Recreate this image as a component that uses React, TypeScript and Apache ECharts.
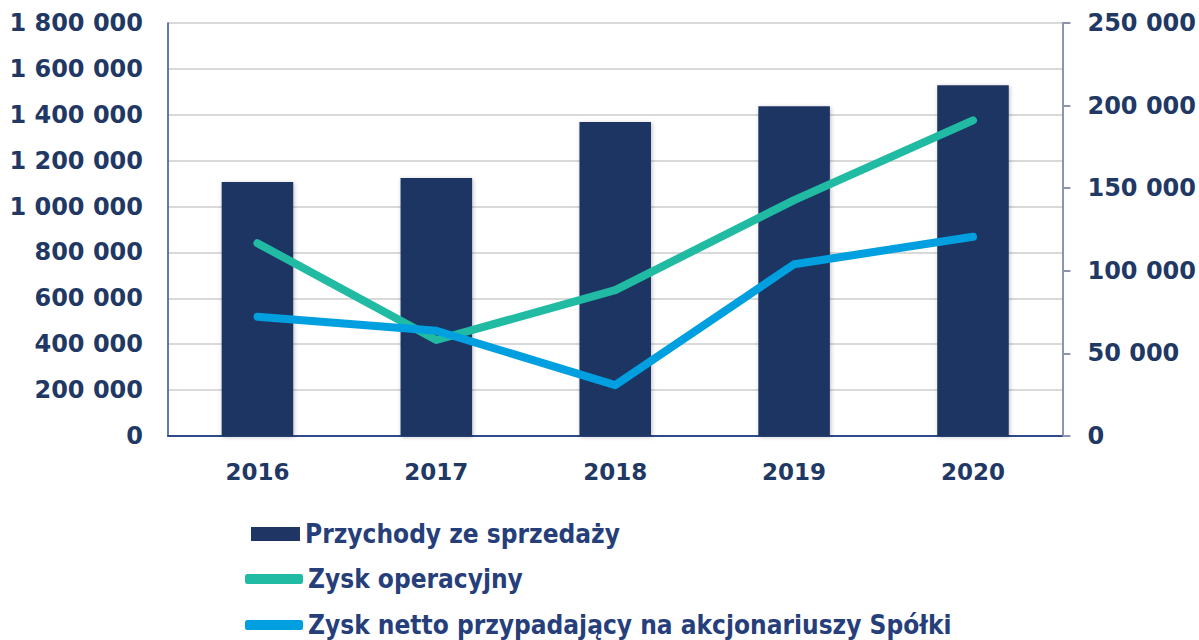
import React, { useEffect, useRef } from "react";
import * as echarts from "echarts";

const years = ["2016", "2017", "2018", "2019", "2020"];
const przychody = [1107000, 1125000, 1369000, 1437000, 1529000];
const zyskOperacyjny = [116700, 58100, 88300, 142800, 191100];
const zyskNetto = [72200, 63700, 30800, 104000, 120600];
const leftTicks = { min: 0, max: 1800000, interval: 200000 };
const rightTicks = { min: 0, max: 250000, interval: 50000 };

const NAVY = "#1f3564";
const GREEN = "#20bba2";
const BLUE = "#009fe0";
const LABEL = "#1f3864";
const LEGEND_TEXT = "#263f7a";
const AXIS_FONT = "'DejaVu Sans', Verdana, sans-serif";
const LEGEND_FONT = "'DejaVu Sans Condensed', 'Liberation Sans Narrow', 'DejaVu Sans', sans-serif";

const fmt = (v: number) => String(v).replace(/\B(?=(\d{3})+(?!\d))/g, " ");

export default function App() {
  const ref = useRef<HTMLDivElement>(null);
  useEffect(() => {
    if (!ref.current) return;
    const chart = echarts.init(ref.current, undefined, { renderer: "svg" });
    const legendText = {
      color: LEGEND_TEXT,
      fontFamily: LEGEND_FONT,
      fontWeight: "bold" as const,
      fontSize: 26,
      lineHeight: 26,
    };
    chart.setOption({
      animation: false,
      backgroundColor: "#ffffff",
      grid: { left: 168, right: 135, top: 23, bottom: 204, containLabel: false },
      legend: [
        {
          data: [{ name: "Przychody ze sprzedaży", icon: "rect" }],
          left: 251,
          top: 521,
          padding: 0,
          itemWidth: 49,
          itemHeight: 14,
          textStyle: { ...legendText },
        },
        {
          data: [{ name: "Zysk operacyjny", icon: "roundRect" }],
          left: 245,
          top: 566,
          padding: 0,
          itemWidth: 58,
          itemHeight: 10,
          textStyle: { ...legendText },
        },
        {
          data: [{ name: "Zysk netto przypadający na akcjonariuszy Spółki", icon: "roundRect" }],
          left: 245,
          top: 612,
          padding: 0,
          itemWidth: 58,
          itemHeight: 10,
          textStyle: { ...legendText },
        },
      ],
      xAxis: {
        type: "category",
        data: years,
        axisLine: { show: true, lineStyle: { color: "#2f4a8a", width: 2 } },
        axisTick: { show: false },
        axisLabel: {
          color: LABEL,
          fontFamily: AXIS_FONT,
          fontWeight: "bold",
          fontSize: 23,
          margin: 24,
        },
      },
      yAxis: [
        {
          type: "value",
          position: "left",
          ...leftTicks,
          axisLine: { show: true, lineStyle: { color: "#2f4f8f", width: 1.5 } },
          axisTick: { show: false },
          splitLine: { show: true, lineStyle: { color: "#d9d9d9", width: 2 } },
          axisLabel: {
            color: LABEL,
            fontFamily: AXIS_FONT,
            fontWeight: "bold",
            fontSize: 24,
            margin: 25,
            formatter: (v: number) => fmt(v),
          },
        },
        {
          type: "value",
          position: "right",
          ...rightTicks,
          axisLine: { show: true, lineStyle: { color: "#8c94b0", width: 2 } },
          axisTick: { show: true, length: 8, lineStyle: { color: "#8c94b0", width: 2 } },
          splitLine: { show: false },
          axisLabel: {
            color: LABEL,
            fontFamily: AXIS_FONT,
            fontWeight: "bold",
            fontSize: 24,
            margin: 25,
            formatter: (v: number) => fmt(v),
          },
        },
      ],
      series: [
        {
          name: "Przychody ze sprzedaży",
          type: "bar",
          yAxisIndex: 0,
          data: przychody,
          barWidth: "40%",
          itemStyle: {
            color: NAVY,
            shadowColor: "rgba(0,0,0,0.25)",
            shadowBlur: 4,
            shadowOffsetX: 1,
            shadowOffsetY: 1,
          },
        },
        {
          name: "Zysk operacyjny",
          type: "line",
          yAxisIndex: 1,
          data: zyskOperacyjny,
          symbol: "none",
          color: GREEN,
          lineStyle: { color: GREEN, width: 8, cap: "round", join: "round" },
          itemStyle: { color: GREEN },
        },
        {
          name: "Zysk netto przypadający na akcjonariuszy Spółki",
          type: "line",
          yAxisIndex: 1,
          data: zyskNetto,
          symbol: "none",
          color: BLUE,
          lineStyle: { color: BLUE, width: 8, cap: "round", join: "round" },
          itemStyle: { color: BLUE },
        },
      ],
    });
    return () => chart.dispose();
  }, []);
  return (
    <div
      ref={ref}
      style={{ position: "absolute", left: 0, top: 0, width: 1199, height: 640 }}
    />
  );
}
